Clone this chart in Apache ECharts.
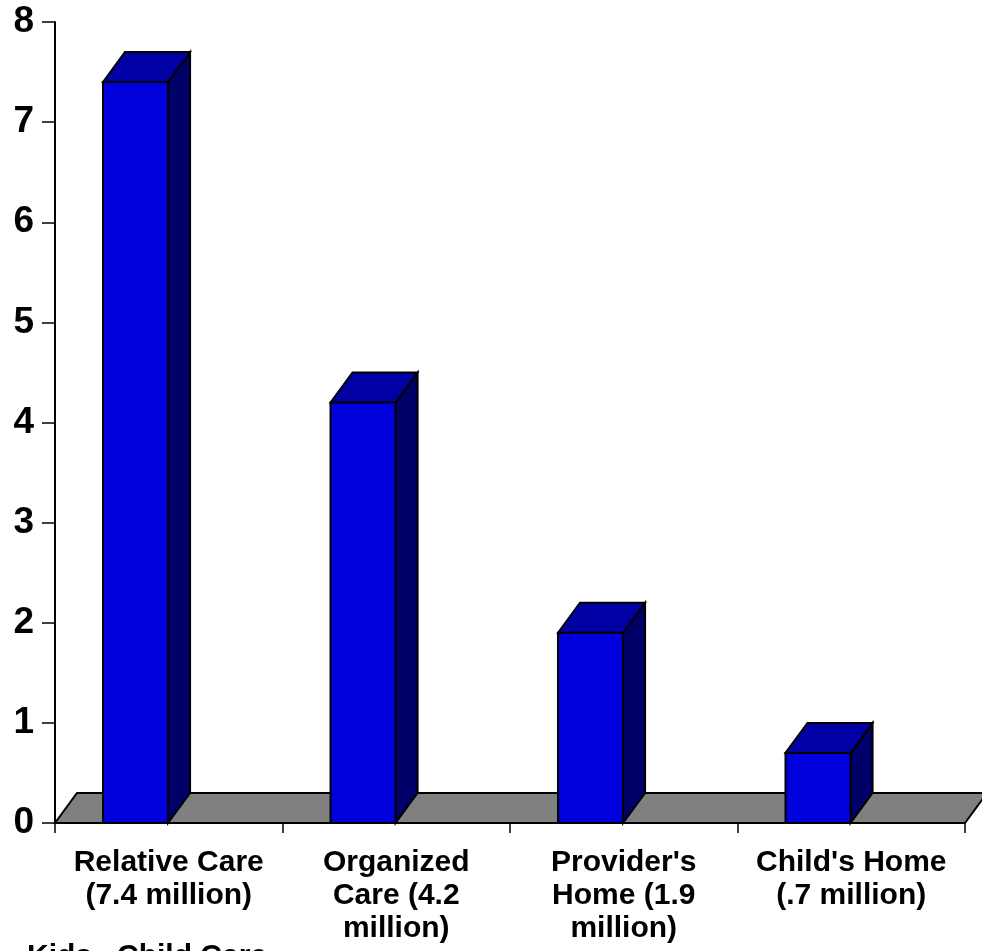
<!DOCTYPE html>
<html>
<head>
<meta charset="utf-8">
<style>
  html, body { margin: 0; padding: 0; background: #ffffff; }
  #chart { width: 982px; height: 951px; }
</style>
<script src="https://cdn.jsdelivr.net/npm/echarts@6/dist/echarts.min.js"></script>
</head>
<body>
<div id="chart"></div>
<script>
// Children in each care arrangement, in millions
var categories = [
  'Relative Care\n(7.4 million)',
  'Organized\nCare (4.2\nmillion)',
  "Provider's\nHome (1.9\nmillion)",
  "Child's Home\n(.7 million)"
];
var values = [7.4, 4.2, 1.9, 0.7];
var yTicks = [0, 1, 2, 3, 4, 5, 6, 7, 8];

var FRONT = '#0000dd';
var TOP = '#0000a4';
var SIDE = '#000068';
var FLOOR = '#808080';
var DEPTH_X = 22, DEPTH_Y = 30;
var EDGE = { stroke: '#000', lineWidth: 2, lineJoin: 'miter' };

var chart = echarts.init(document.getElementById('chart'), null, { renderer: 'canvas' });

function renderFloor(params, api) {
  var cs = params.coordSys;
  var y0 = api.coord([0, 0])[1];
  var x0 = cs.x, x1 = cs.x + cs.width;
  return {
    type: 'polygon',
    shape: { points: [[x0, y0], [x1, y0], [x1 + DEPTH_X, y0 - DEPTH_Y], [x0 + DEPTH_X, y0 - DEPTH_Y]] },
    style: Object.assign({ fill: FLOOR }, EDGE)
  };
}

function renderBar(params, api) {
  var idx = api.value(0), val = api.value(1);
  var topPt = api.coord([idx, val]);
  var basePt = api.coord([idx, 0]);
  var band = api.size([1, 0])[0];
  var w = band * 0.286;
  var left = topPt[0] - band / 2 + band * 0.211;
  var right = left + w;
  var yt = topPt[1], yb = basePt[1];
  return {
    type: 'group',
    children: [
      {
        type: 'polygon',
        shape: { points: [[right, yt], [right + DEPTH_X, yt - DEPTH_Y], [right + DEPTH_X, yb - DEPTH_Y], [right, yb]] },
        style: Object.assign({ fill: SIDE }, EDGE)
      },
      {
        type: 'polygon',
        shape: { points: [[left, yt], [left + DEPTH_X, yt - DEPTH_Y], [right + DEPTH_X, yt - DEPTH_Y], [right, yt]] },
        style: Object.assign({ fill: TOP }, EDGE)
      },
      {
        type: 'rect',
        shape: { x: left, y: yt, width: w, height: yb - yt },
        style: Object.assign({ fill: FRONT }, EDGE)
      }
    ]
  };
}

chart.setOption({
  animation: false,
  backgroundColor: '#ffffff',
  grid: { left: 55, right: 17, top: 22, bottom: 128, containLabel: false },
  xAxis: {
    type: 'category',
    data: categories,
    boundaryGap: true,
    axisLine: { show: true, lineStyle: { color: '#000', width: 2 } },
    axisTick: { show: true, length: 10, lineStyle: { color: '#000', width: 1.5 } },
    axisLabel: {
      interval: 0,
      margin: 23,
      color: '#000',
      fontFamily: 'Liberation Sans, Arial, sans-serif',
      fontWeight: 'bold',
      fontSize: 30,
      lineHeight: 33,
      align: 'center'
    },
    splitLine: { show: false }
  },
  yAxis: {
    type: 'value',
    min: yTicks[0],
    max: yTicks[yTicks.length - 1],
    interval: 1,
    axisLine: { show: true, lineStyle: { color: '#000', width: 2 } },
    axisTick: { show: true, length: 13, lineStyle: { color: '#000', width: 1.5 } },
    axisLabel: {
      margin: 21,
      color: '#000',
      fontFamily: 'Liberation Sans, Arial, sans-serif',
      fontWeight: 'bold',
      fontSize: 37,
      padding: [5, 0, 0, 0]
    },
    splitLine: { show: false }
  },
  graphic: [
    {
      type: 'text',
      left: 27,
      top: 942,
      style: {
        text: 'Kids   Child Care',
        fill: '#000',
        font: 'bold 30px "Liberation Sans", Arial, sans-serif'
      }
    }
  ],
  series: [
    {
      type: 'custom',
      name: 'floor',
      z: 1,
      silent: true,
      renderItem: renderFloor,
      data: [[0, 0]],
      encode: { x: 0, y: 1 }
    },
    {
      type: 'custom',
      name: 'children',
      z: 3,
      renderItem: renderBar,
      data: values.map(function (v, i) { return [i, v]; }),
      encode: { x: 0, y: 1 }
    }
  ]
});
</script>
</body>
</html>
